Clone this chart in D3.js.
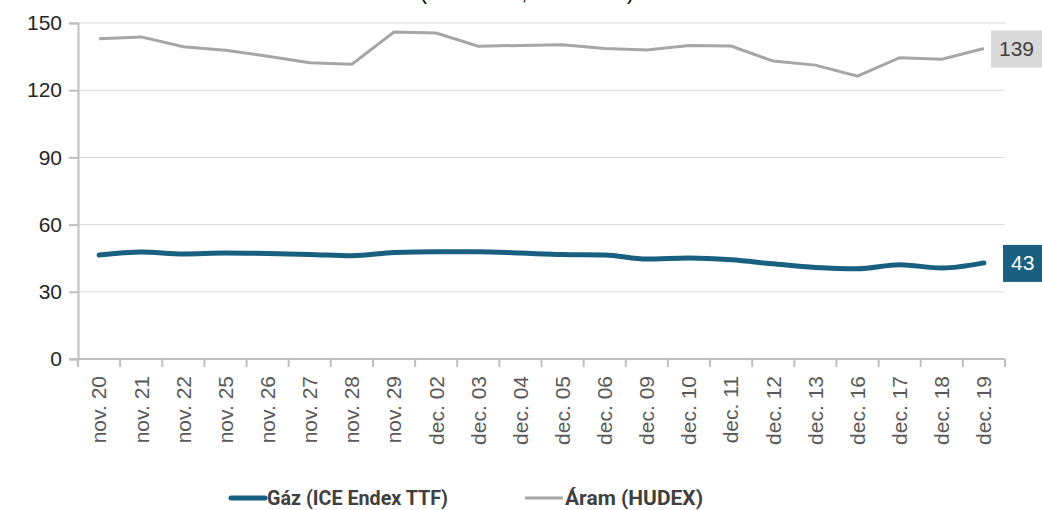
<!DOCTYPE html>
<html>
<head>
<meta charset="utf-8">
<script src="https://cdn.jsdelivr.net/npm/d3@7"></script>
<style>
  body { margin: 0; background: #fff; }
  svg { display: block; font-family: "Liberation Sans", Arial, sans-serif; }
</style>
</head>
<body>
<svg id="chart" width="1042" height="510"></svg>
<script>
// dates on the x axis
const days = ['nov. 20','nov. 21','nov. 22','nov. 25','nov. 26','nov. 27','nov. 28','nov. 29',
  'dec. 02','dec. 03','dec. 04','dec. 05','dec. 06','dec. 09','dec. 10','dec. 11',
  'dec. 12','dec. 13','dec. 16','dec. 17','dec. 18','dec. 19']
// Gáz (ICE Endex TTF)
const gas = [46.4, 47.8, 46.9, 47.3, 47.1, 46.7, 46.1, 47.5, 47.9, 47.9, 47.3, 46.6,
  46.4, 44.6, 45.1, 44.3, 42.5, 40.9, 40.3, 42.1, 40.6, 42.9]
// Áram (HUDEX)
const power = [143.0, 143.8, 139.4, 137.8, 135.2, 132.3, 131.6, 146.0, 145.5, 139.6, 140.0, 140.3,
  138.6, 138.0, 139.9, 139.7, 133.0, 131.2, 126.3, 134.5, 133.8, 138.6]
const yTicks = [0, 30, 60, 90, 120, 150]

const svg = d3.select('#chart')
const mLeft = 78, mRight = 1005, mTop = 23, mBottom = 359

const x = d3.scaleBand().domain(days).range([mLeft, mRight])
const y = d3.scaleLinear().domain([0, 150]).range([mBottom, mTop])
const cx = d => x(d) + x.bandwidth() / 2

// title, cut at the top edge (only the tails of the brackets show)
svg.append('text')
  .attr('x', 527).attr('y', 0)
  .attr('text-anchor', 'middle')
  .attr('font-size', 20)
  .attr('fill', '#000')
  .text('(EUR/MWh, EUR/MWh)')

// grid
svg.append('g')
  .selectAll('line')
  .data(yTicks.filter(t => t > 0))
  .enter()
  .append('line')
  .attr('x1', mLeft).attr('x2', mRight)
  .attr('y1', d => y(d)).attr('y2', d => y(d))
  .attr('stroke', '#d9d9d9')
  .attr('stroke-width', 1)

// y axis
const yAxis = svg.append('g')
  .attr('transform', 'translate(' + mLeft + ',0)')
  .call(d3.axisLeft(y).tickValues(yTicks).tickSize(9).tickPadding(7))
yAxis.select('.domain').attr('stroke', '#bfbfbf').attr('stroke-width', 2)
yAxis.selectAll('.tick line').attr('stroke', '#bfbfbf').attr('stroke-width', 2)
yAxis.selectAll('.tick text')
  .attr('font-size', 21)
  .attr('fill', '#262626')
  .attr('font-family', '"Liberation Sans", Arial, sans-serif')

// x axis: ticks at category boundaries
const xAxis = svg.append('g')
  .attr('transform', 'translate(0,' + mBottom + ')')
xAxis.append('line')
  .attr('x1', mLeft - 9).attr('x2', mRight)
  .attr('stroke', '#bfbfbf').attr('stroke-width', 2)
xAxis.selectAll('.xt')
  .data(days.concat(['end']))
  .enter()
  .append('line')
  .attr('class', 'xt')
  .attr('x1', (d, i) => mLeft + i * x.bandwidth())
  .attr('x2', (d, i) => mLeft + i * x.bandwidth())
  .attr('y1', 0).attr('y2', 8)
  .attr('stroke', '#bfbfbf').attr('stroke-width', 2)
xAxis.selectAll('.xl')
  .data(days)
  .enter()
  .append('text')
  .attr('class', 'xl')
  .attr('transform', d => 'translate(' + cx(d) + ',17) rotate(-90)')
  .attr('text-anchor', 'end')
  .attr('dy', '0.35em')
  .attr('font-size', 21)
  .attr('fill', '#595959')
  .text(d => d)

// lines
const blue = '#195f80'
const grey = '#a6a6a6'

svg.append('path')
  .datum(power)
  .attr('fill', 'none')
  .attr('stroke', grey)
  .attr('stroke-width', 3)
  .attr('d', d3.line().x((d, i) => cx(days[i])).y(d => y(d)))

svg.append('path')
  .datum(gas)
  .attr('fill', 'none')
  .attr('stroke', blue)
  .attr('stroke-width', 5)
  .attr('stroke-linecap', 'round')
  .attr('d', d3.line().curve(d3.curveMonotoneX).x((d, i) => cx(days[i])).y(d => y(d)))

// end labels
function endLabel(val, fill, color, bx) {
  const yy = y(val)
  svg.append('rect')
    .attr('x', bx).attr('y', yy - 18)
    .attr('width', 1042 - bx + 5).attr('height', 37)
    .attr('fill', fill)
  svg.append('text')
    .attr('x', bx + 8)
    .attr('y', yy)
    .attr('dy', '0.35em')
    .attr('font-size', 21)
    .attr('fill', color)
    .text(Math.round(val))
}
endLabel(power[power.length - 1], '#d9d9d9', '#404040', 991)
endLabel(gas[gas.length - 1], blue, '#fff', 1003)

// legend
const legend = svg.append('g').attr('font-family', 'Roboto, sans-serif')
legend.append('line')
  .attr('x1', 231).attr('x2', 265).attr('y1', 498).attr('y2', 498)
  .attr('stroke', blue).attr('stroke-width', 5).attr('stroke-linecap', 'round')
legend.append('text')
  .attr('x', 267).attr('y', 498).attr('dy', '0.35em')
  .attr('font-size', 21).attr('font-weight', 'bold').attr('fill', '#404040')
  .attr('textLength', 181).attr('lengthAdjust', 'spacingAndGlyphs')
  .text('Gáz (ICE Endex TTF)')
legend.append('line')
  .attr('x1', 525).attr('x2', 563).attr('y1', 498).attr('y2', 498)
  .attr('stroke', grey).attr('stroke-width', 3)
legend.append('text')
  .attr('x', 565).attr('y', 498).attr('dy', '0.35em')
  .attr('font-size', 21).attr('font-weight', 'bold').attr('fill', '#404040')
  .attr('textLength', 138).attr('lengthAdjust', 'spacingAndGlyphs')
  .text('Áram (HUDEX)')
</script>
</body>
</html>
